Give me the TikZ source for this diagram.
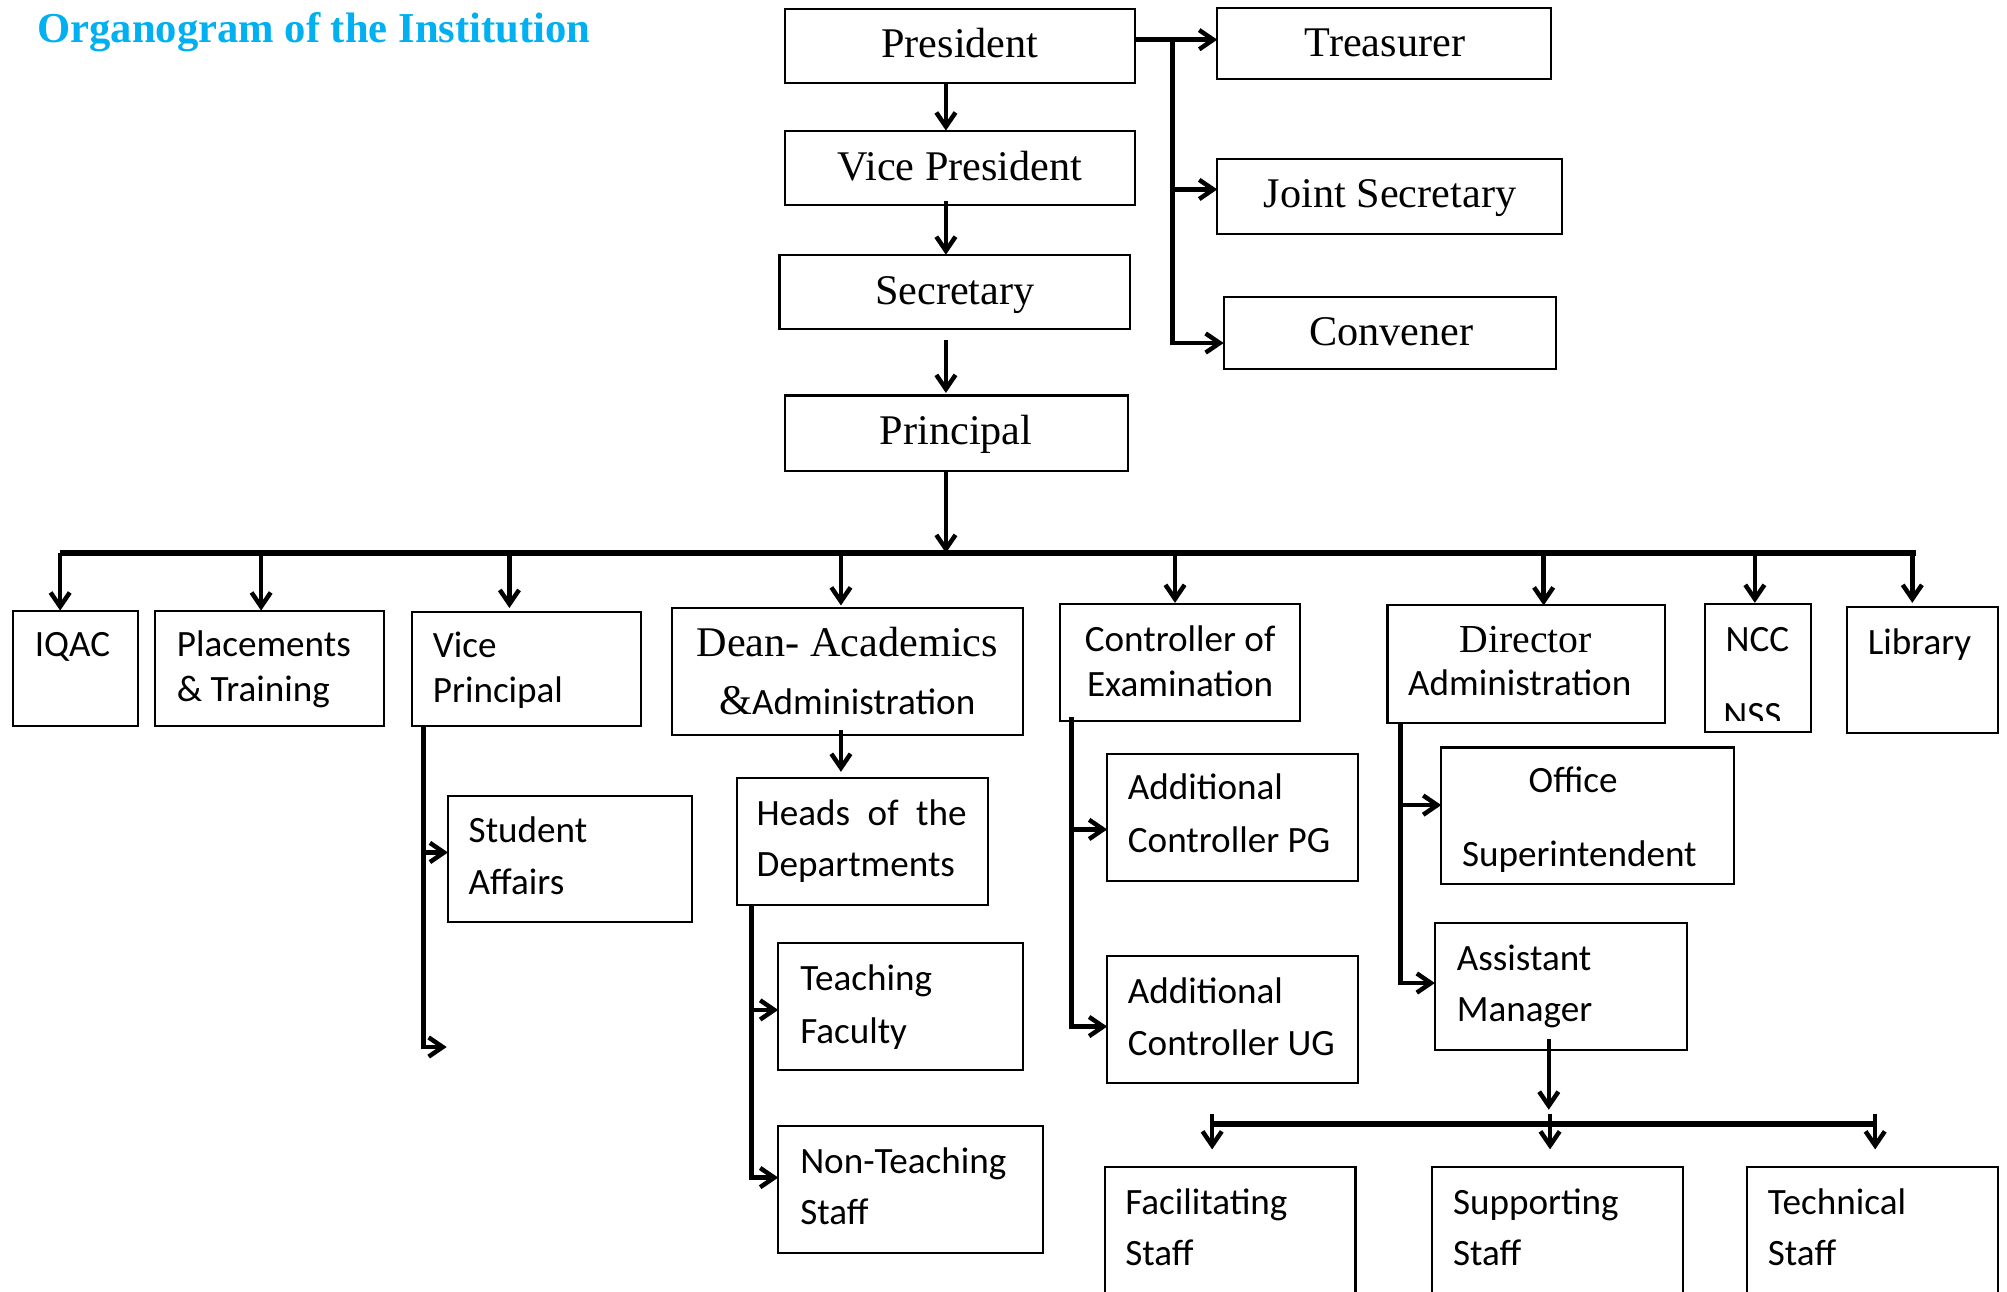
\documentclass[tikz,border=0pt]{standalone}
\usepackage{fontspec}
\setmainfont{Liberation Serif}
\newfontfamily\calfont{Carlito}
\usetikzlibrary{arrows.meta}
\definecolor{titlecyan}{RGB}{0,176,240}
\tikzset{
 box/.style={draw, line width=1.6pt, rectangle, anchor=north west, inner sep=0pt, outer sep=0pt},
 tms/.style={font=\fontsize{33}{40}\selectfont, inner sep=0pt},
 cal/.style={font=\calfont\fontsize{29}{35}\selectfont, inner sep=0pt},
 conn/.style={line width=3.5pt},
 arr/.style={line width=3.5pt, -{Straight Barb[length=11pt,width=15pt]}},
 bus/.style={line width=5pt},
}
\newcommand\obox[5]{\node[box,minimum width=#4pt,minimum height=#5pt] (#1) at (#2,#3) {};}
\begin{document}
\begin{tikzpicture}[x=1pt,y=-1pt]
\fill[white] (0,0) rectangle (1568,1009);
\useasboundingbox (0,0) rectangle (1568,1009);

% title
\node[anchor=base west, inner sep=0pt, text=titlecyan, font=\bfseries\fontsize{33.3}{40}\selectfont] (title) at (29,33) {Organogram of the Institution};

% boxes
\obox{pres}{613}{7}{274}{58}
\obox{vp}{613}{102}{274}{58}
\obox{sec}{609}{199}{274}{58}
\obox{princ}{613}{309}{268}{59}
\obox{treas}{951}{6}{261}{56}
\obox{joint}{951}{124}{269}{59}
\obox{conv}{956}{232}{260}{56}
\obox{iqac}{10}{477}{98}{90}
\obox{place}{121}{477}{179}{90}
\obox{vprin}{322}{478}{179}{89}
\obox{dean}{525}{475}{274}{99}
\obox{ctrl}{828}{472}{188}{91}
\obox{dir}{1084}{473}{217}{92}
\obox{ncc}{1332}{472}{83}{100}
\obox{lib}{1443}{474}{118}{99}
\obox{stud}{350}{622}{191}{98}
\obox{heads}{576}{608}{196}{99}
\obox{teach}{608}{737}{191}{99}
\obox{nonteach}{608}{880}{207}{99}
\obox{acpg}{865}{589}{196}{99}
\obox{acug}{865}{747}{196}{99}
\obox{office}{1126}{584}{229}{107}
\obox{asst}{1121}{721}{197}{99}
\obox{facil}{863}{912}{196}{120}
\obox{supp}{1119}{912}{196}{120}
\obox{tech}{1365}{912}{196}{120}

% texts (Times)
\node[tms, anchor=base] (t-pres) at (750,45) {President};
\node[tms, anchor=base] (t-vp) at (750,141) {Vice President};
\node[tms, anchor=base] (t-sec) at (746,238) {Secretary};
\node[tms, anchor=base] (t-princ) at (747,347) {Principal};
\node[tms, anchor=base] (t-treas) at (1082,44) {Treasurer};
\node[tms, anchor=base] (t-joint) at (1086,162) {Joint Secretary};
\node[tms, anchor=base] (t-conv) at (1087,270) {Convener};
\node[tms, anchor=base] (t-dean1) at (662,513) {Dean-\ Academics};
\node[tms, anchor=base] (t-dean2) at (662,558) {\&{\calfont\fontsize{29}{35}\selectfont Administration}};
\node[font=\fontsize{31}{38}\selectfont, inner sep=0pt, anchor=base] (t-dir1) at (1192,510) {Director};

% texts (Calibri)
\node[cal, anchor=base west] (t-iqac) at (27,513) {IQAC};
\node[cal, anchor=base west] (t-place1) at (138,513) {Placements};
\node[cal, anchor=base west] (t-place2) at (138,548) {\& Training};
\node[cal, anchor=base west] (t-vpr1) at (338,514) {Vice};
\node[cal, anchor=base west] (t-vpr2) at (338,549) {Principal};
\node[cal, anchor=base] (t-ctrl1) at (922,509) {Controller of};
\node[cal, anchor=base] (t-ctrl2) at (922,544) {Examination};
\node[cal, anchor=base west] (t-dir2) at (1100,543) {Administration};
\node[cal, anchor=base] (t-ncc) at (1373,509) {NCC};
\begin{scope}
\clip (1334,540) rectangle (1413,563);
\node[cal, anchor=base] (t-nss) at (1369,568) {NSS};
\end{scope}
\node[cal, anchor=base west] (t-lib) at (1459,511) {Library};
\node[cal, anchor=base west] (t-stud1) at (366,658) {Student};
\node[cal, anchor=base west] (t-stud2) at (366,699) {Affairs};
\node[cal, anchor=base west] (t-heads1) at (591,645) {\makebox[164pt][s]{Heads\hfill of\hfill the}};
\node[cal, anchor=base west] (t-heads2) at (591,685) {Departments};
\node[cal, anchor=base west] (t-teach1) at (625,774) {Teaching};
\node[cal, anchor=base west] (t-teach2) at (625,815) {Faculty};
\node[cal, anchor=base west] (t-non1) at (625,917) {Non-Teaching};
\node[cal, anchor=base west] (t-non2) at (625,957) {Staff};
\node[cal, anchor=base west] (t-acpg1) at (881,625) {Additional};
\node[cal, anchor=base west] (t-acpg2) at (881,666) {Controller PG};
\node[cal, anchor=base west] (t-acug1) at (881,784) {Additional};
\node[cal, anchor=base west] (t-acug2) at (881,825) {Controller UG};
\node[cal, anchor=base] (t-off1) at (1229,619) {Office};
\node[cal, anchor=base west] (t-off2) at (1142,677) {Superintendent};
\node[cal, anchor=base west] (t-asst1) at (1138,758) {Assistant};
\node[cal, anchor=base west] (t-asst2) at (1138,798) {Manager};
\node[cal, anchor=base west] (t-fac1) at (879,949) {Facilitating};
\node[cal, anchor=base west] (t-fac2) at (879,989) {Staff};
\node[cal, anchor=base west] (t-sup1) at (1135,949) {Supporting};
\node[cal, anchor=base west] (t-sup2) at (1135,989) {Staff};
\node[cal, anchor=base west] (t-tec1) at (1381,949) {Technical};
\node[cal, anchor=base west] (t-tec2) at (1381,989) {Staff};

% top chain
\draw[arr] ([xshift=-11pt]pres.south) -- ([xshift=-11pt]vp.north);
\draw[arr] ([xshift=-11pt,yshift=3pt]vp.south) -- ([xshift=-7pt]sec.north);
\draw[arr] ([xshift=-7pt,yshift=-9pt]sec.south) -- ([xshift=-8pt,yshift=2pt]princ.north);

% right branch
\coordinate (r0) at (916,31);
\coordinate (r1) at (916,148);
\coordinate (r2) at (916,268);
\draw[arr] ([yshift=5pt]pres.east) -- (r0 -| treas.west);
\draw[conn] (r0) -- (r2);
\draw[arr] (r1) -- (r1 -| joint.west);
\draw[arr] ([xshift=-1.75pt]r2) -- (r2 -| conv.west);

% main bus
\coordinate (busL) at (47,432);
\coordinate (busR) at (1497,432);
\coordinate (jp) at (739,432);
\draw[arr] ([xshift=-8pt]princ.south) -- (jp);
\draw[bus] (busL) -- (busR);
\coordinate (j1) at (47,432);
\coordinate (j2) at (204,432);
\coordinate (j3) at (398,432);
\coordinate (j4) at (657,432);
\coordinate (j5) at (918,432);
\coordinate (j6) at (1206,432);
\coordinate (j7) at (1371,432);
\coordinate (j8) at (1494,432);
\draw[arr] (j1) -- (j1 |- iqac.north);
\draw[arr] (j2) -- (j2 |- place.north);
\draw[arr] (j3) -- ([yshift=3pt]j3 |- vprin.north);
\draw[arr] (j4) -- ([yshift=2pt]j4 |- dean.north);
\draw[arr] (j5) -- ([yshift=1pt]j5 |- ctrl.north);
\draw[arr] (j6) -- (j6 |- dir.north);
\draw[arr] (j7) -- ([yshift=1pt]j7 |- ncc.north);
\draw[arr] (j8) -- ([yshift=3pt]j8 |- lib.north);

% vice principal branch
\coordinate (v0) at (331,567);
\coordinate (v1) at (331,666);
\coordinate (v2) at (331,818);
\coordinate (v3) at (349,818);
\draw[conn] (v0) -- ([yshift=-1.75pt]v2);
\draw[arr] (v1) -- (v1 -| stud.west);
\draw[arr] ([xshift=-1.75pt]v2) -- (v3);

% dean branch
\draw[arr] ([yshift=4pt]j4 |- dean.south) -- ([yshift=5pt]j4 |- heads.north);
\coordinate (h0) at (587,707);
\coordinate (h1) at (587,789);
\coordinate (h2) at (587,920);
\draw[conn] (h0) -- ([yshift=-1.75pt]h2);
\draw[arr] (h1) -- (h1 -| teach.west);
\draw[arr] ([xshift=-1.75pt]h2) -- (h2 -| nonteach.west);

% controller branch
\coordinate (c0) at (837,560);
\coordinate (c1) at (837,648);
\coordinate (c2) at (837,802);
\draw[conn] (c0) -- ([yshift=-1.75pt]c2);
\draw[arr] (c1) -- (c1 -| acpg.west);
\draw[arr] ([xshift=-1.75pt]c2) -- (c2 -| acug.west);

% director branch
\coordinate (d0) at (1094,565);
\coordinate (d1) at (1094,629);
\coordinate (d2) at (1094,768);
\draw[conn] (d0) -- ([yshift=-1.75pt]d2);
\draw[arr] (d1) -- (d1 -| office.west);
\draw[arr] ([xshift=-1.75pt]d2) -- (d2 -| asst.west);

% assistant manager to staff
\coordinate (a0) at (1210,812);
\coordinate (a1) at (1210,867);
\draw[arr] (a0) -- (a1);
\coordinate (b1) at (947,878);
\coordinate (b2) at (1211,878);
\coordinate (b3) at (1465,878);
\draw[bus] (b1) -- (b3);
\draw[arr] ([yshift=8pt]b1) -- ([yshift=14pt]b1 |- facil.north);
\draw[arr] ([yshift=8pt]b2) -- ([yshift=14pt]b2 |- supp.north);
\draw[arr] ([yshift=8pt]b3) -- ([yshift=14pt]b3 |- tech.north);
\end{tikzpicture}
\end{document}
